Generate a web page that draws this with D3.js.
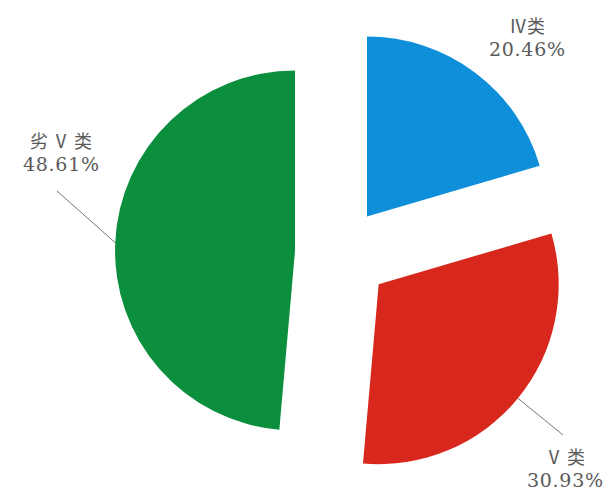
<!DOCTYPE html>
<html><head><meta charset="utf-8">
<script src="https://cdn.jsdelivr.net/npm/d3@7"></script>
<style>body{margin:0;background:#fff}</style>
</head><body>
<svg id="c" width="608" height="491"></svg>
<script>
const categories = ["Ⅳ类", "Ⅴ类", "劣Ⅴ类"];
const values = [20.46, 30.93, 48.61];
const valueLabels = ["20.46%", "30.93%", "48.61%"];
const colors = ["#0f8fd9", "#d8271d", "#0b8f3d"];

const svg = d3.select("#c");
const cx = 340, cy = 252.5, R = 180;
const explodes = [45, 50, 45];
const pie = d3.pie().sort(null).value(d => d)(values);
const arc = d3.arc().innerRadius(0).outerRadius(R);

const g = svg.append("g").attr("transform", `translate(${cx},${cy})`);
const slices = g.selectAll("g.s").data(pie).join("g")
  .attr("transform", (d, i) => {
    const m = (d.startAngle + d.endAngle) / 2;
    return `translate(${explodes[i]*Math.sin(m)},${-explodes[i]*Math.cos(m)})`;
  });
slices.append("path").attr("d", arc).attr("fill", (d,i) => colors[i]);

// label layout (positions relative to chart, not data)
const labelPos = [
  {x: 527, y1: 33, y2: 56, line: null},
  {x: 565, y1: 464, y2: 487, line: [563, 435]},
  {x: 61, y1: 148, y2: 171, line: [57, 191]}
];
pie.forEach((d, i) => {
  const m = (d.startAngle + d.endAngle) / 2;
  const ox = cx + explodes[i]*Math.sin(m), oy = cy - explodes[i]*Math.cos(m);
  const px = ox + R*Math.sin(m), py = oy - R*Math.cos(m);
  const L = labelPos[i];
  if (L.line) {
    svg.append("line").attr("x1", px).attr("y1", py)
      .attr("x2", L.line[0]).attr("y2", L.line[1])
      .attr("stroke", "#777").attr("stroke-width", 1);
  }
  svg.append("text").attr("x", L.x).attr("y", L.y1)
    .attr("text-anchor", "middle")
    .attr("font-family", "'Noto Sans CJK SC'")
    .attr("font-size", 18).attr("fill", "#5a5a5a")
    .text(categories[i].split("").join(" ").replace("Ⅳ ", "Ⅳ"));
  svg.append("text").attr("x", L.x).attr("y", L.y2)
    .attr("text-anchor", "middle")
    .attr("font-family", "'DejaVu Serif'")
    .attr("font-size", 19).attr("fill", "#5a5a5a")
    .attr("textLength", 76).attr("lengthAdjust", "spacing")
    .text(valueLabels[i]);
});
</script>
</body></html>
